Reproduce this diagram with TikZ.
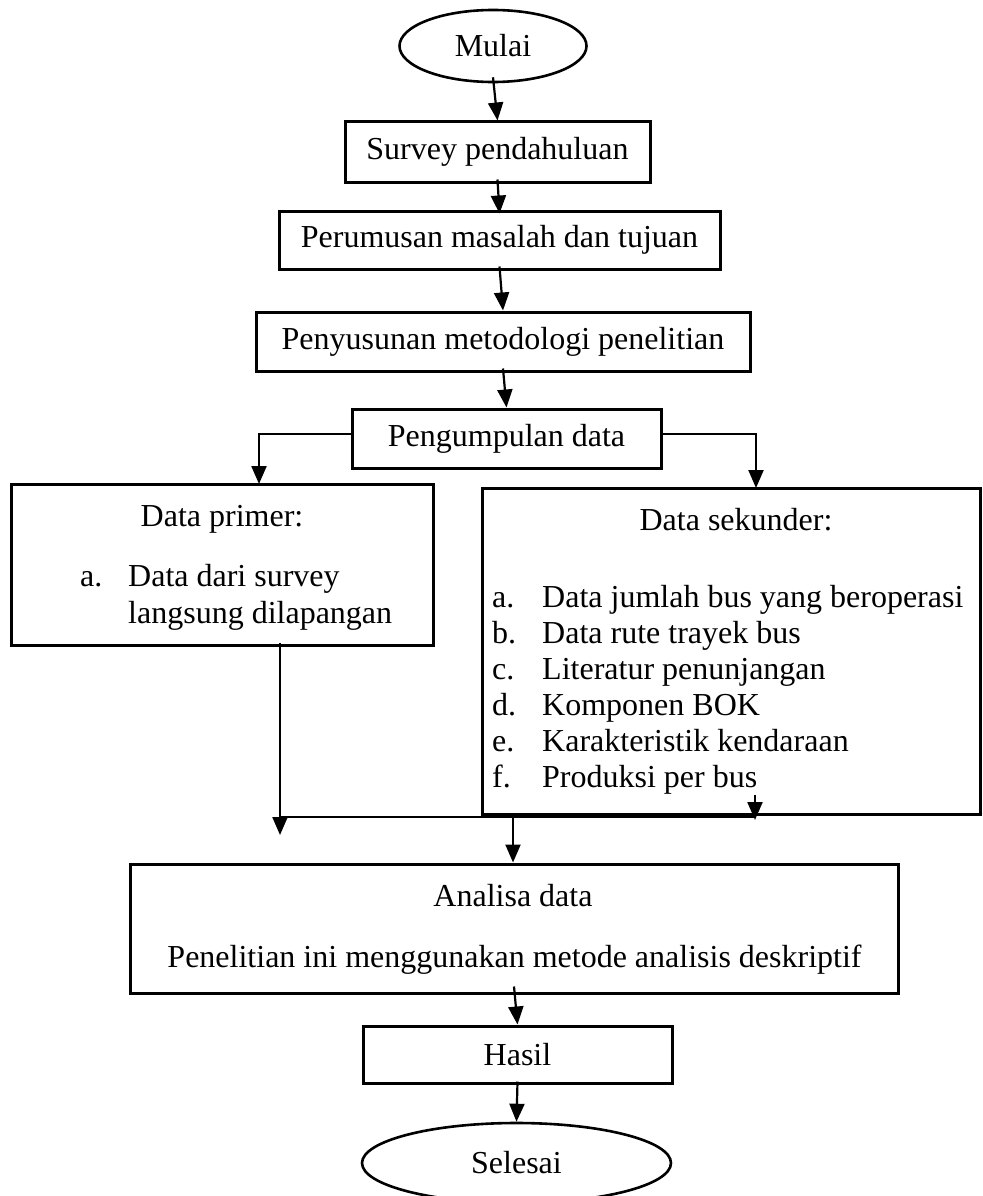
\documentclass[tikz,border=0pt]{standalone}
\usepackage{fontspec}
\setmainfont{Liberation Serif}
\usetikzlibrary{arrows.meta,shapes.geometric}
\begin{document}
\begin{tikzpicture}[x=1pt,y=-1pt,
  box/.style={draw,line width=3pt,inner sep=0pt,anchor=center},
  oval/.style={draw,ellipse,line width=2.6pt,inner sep=0pt,anchor=center},
  arr/.style={line width=2.2pt,-{Triangle[length=18pt,width=15pt]}},
  ln/.style={line width=2.2pt},
  ctxt/.style={inner sep=0pt,anchor=base},
  ltxt/.style={inner sep=0pt,anchor=base west},
  font=\fontsize{32}{38}\selectfont]
\useasboundingbox (0,0) rectangle (982,1196);

% main column
\node[oval,minimum width=187pt,minimum height=72pt] (mulai) at (493,46) {Mulai};
\node[box,minimum width=305pt,minimum height=60pt] (survey) at (497.5,152) {Survey pendahuluan};
\node[box,minimum width=441pt,minimum height=58pt] (perumusan) at (499.5,240) {Perumusan masalah dan tujuan};
\node[box,minimum width=494pt,minimum height=59pt] (penyusunan) at (503,341.5) {Penyusunan metodologi penelitian};
\node[box,minimum width=309pt,minimum height=59pt] (pengumpulan) at (506.5,438.5) {Pengumpulan data};

% data boxes
\node[box,minimum width=422pt,minimum height=161pt] (primer) at (222,564.5) {};
\node[ctxt] (primerT) at (222,526) {Data primer:};
\node[ltxt] (pa) at (80,586) {a.};
\node[ltxt] (pa1) at (128,586) {Data dari survey};
\node[ltxt] (pa2) at (128,623) {langsung dilapangan};

\node[box,minimum width=498pt,minimum height=326pt] (sekunder) at (731,651) {};
\node[ctxt] (sekT) at (736,530) {Data sekunder:};
\node[ltxt] (sa) at (492,607) {a.};
\node[ltxt] (sa1) at (542,607) {Data jumlah bus yang beroperasi};
\node[ltxt] (sb) at (492,643) {b.};
\node[ltxt] (sb1) at (542,643) {Data rute trayek bus};
\node[ltxt] (sc) at (492,679) {c.};
\node[ltxt] (sc1) at (542,679) {Literatur penunjangan};
\node[ltxt] (sd) at (492,715) {d.};
\node[ltxt] (sd1) at (542,715) {Komponen BOK};
\node[ltxt] (se) at (492,751) {e.};
\node[ltxt] (se1) at (542,751) {Karakteristik kendaraan};
\node[ltxt] (sf) at (492,787) {f.};
\node[ltxt] (sf1) at (542,787) {Produksi per bus};

% analysis and end
\node[box,minimum width=768pt,minimum height=129pt] (analisa) at (514,928.5) {};
\node[ctxt] (anT1) at (513,906) {Analisa data};
\node[ctxt] (anT2) at (514.5,967) {Penelitian ini menggunakan metode analisis deskriptif};
\node[box,minimum width=309pt,minimum height=57pt] (hasil) at (517.5,1054.5) {Hasil};
\node[oval,minimum width=309pt,minimum height=80pt] (selesai) at (516.5,1163) {Selesai};

% connectors
\draw[arr] ([yshift=6pt]mulai.south) -- (survey.north);
\draw[arr] ([yshift=4pt]survey.south) -- ([yshift=-4pt]perumusan.north);
\draw[arr] ([yshift=4pt]perumusan.south) -- (penyusunan.north);
\draw[arr] ([yshift=4pt]penyusunan.south) -- (pengumpulan.north);

\coordinate (pl) at (259,484);
\coordinate (pr) at (756,488);
\draw[arr] ([yshift=4.5pt]pengumpulan.west) -| (pl);
\draw[arr] ([yshift=4.5pt]pengumpulan.east) -| (pr);

\coordinate (pd) at (280,835);
\draw[arr] ([yshift=4pt]primer.south -| pd) -- (pd);
\coordinate (ml) at (280,817);
\coordinate (mr) at (754,817);
\draw[ln] (ml) -- (mr);
\coordinate (s1) at (755,795);
\coordinate (s2) at (755,820);
\draw[arr] (s1) -- (s2);
\coordinate (m1) at (513,817);
\draw[arr] (m1) -- (analisa.north -| m1);

\draw[arr] ([yshift=8pt]analisa.south) -- (hasil.north);
\draw[arr] ([yshift=3pt]hasil.south) -- (selesai.north);
\end{tikzpicture}
\end{document}
